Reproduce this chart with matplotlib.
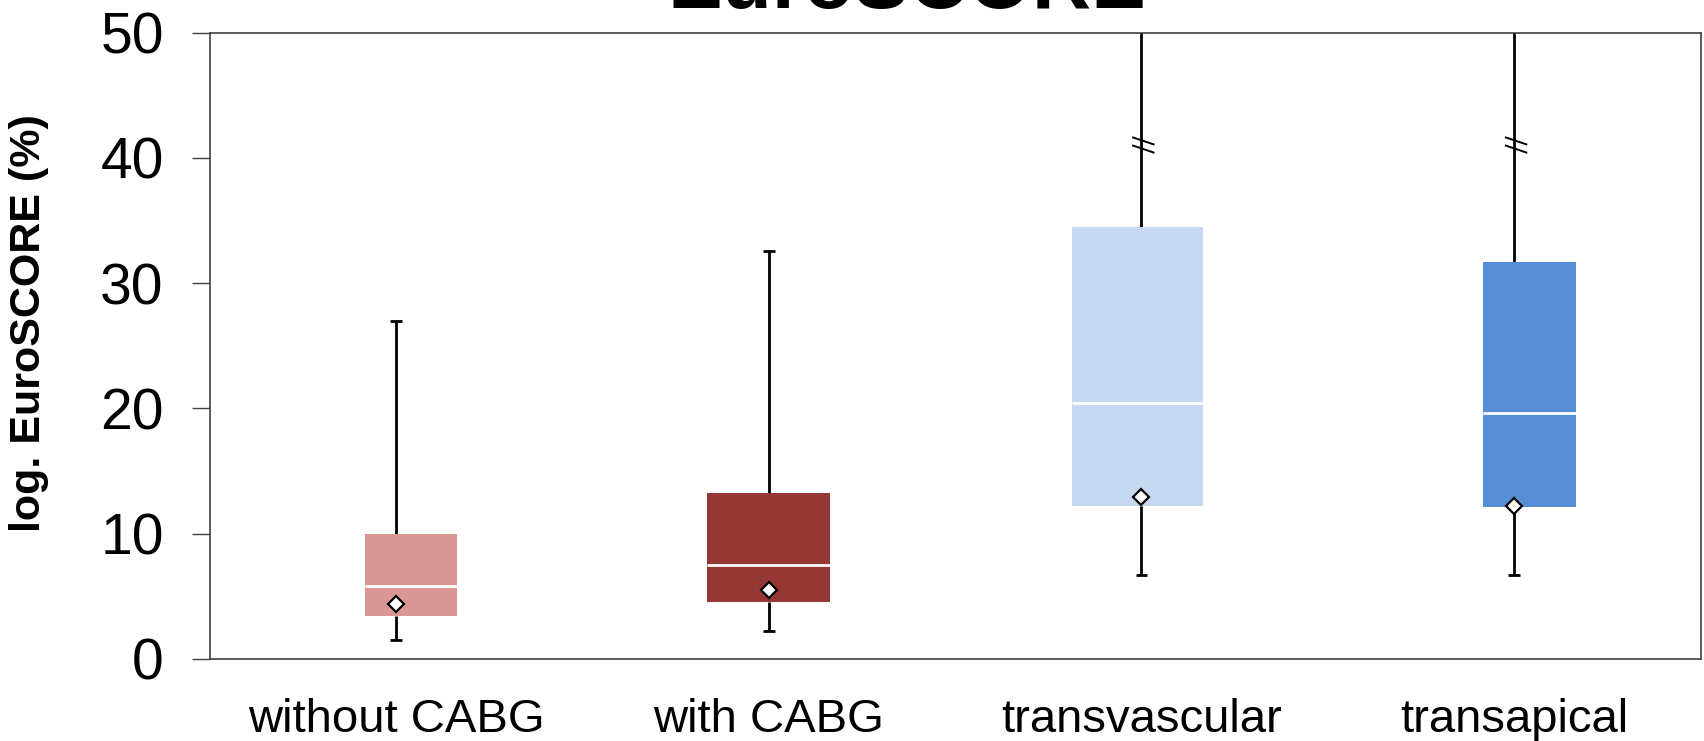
import numpy as np
import matplotlib.pyplot as plt

# EuroSCORE box plots by treatment group
groups = ['without CABG', 'with CABG', 'transvascular', 'transapical']
whisker_low = [1.5, 2.2, 6.7, 6.7]
q1 = [3.4, 4.5, 12.2, 12.1]
median = [5.8, 7.5, 20.4, 19.6]
q3 = [10.0, 13.2, 34.5, 31.7]
whisker_high = [27.0, 32.6, 60.0, 60.0]   # last two run off the axis
means = [4.4, 5.5, 12.9, 12.2]
break_at = [None, None, 41.0, 41.0]        # axis-break marks on long whiskers
colors = ['#DA9694', '#953735', '#C6D9F1', '#558ED5']
box_widths = [0.247, 0.330, 0.352, 0.248]  # boxes share a right edge

plt.rcParams['font.family'] = ['Liberation Sans', 'DejaVu Sans']

fig = plt.figure(figsize=(17.04, 7.41), dpi=100)
ax = fig.add_axes([0.123, 0.111, 0.875, 0.845])

x = np.arange(len(groups))
right_off = 0.165

# whiskers + caps
ax.vlines(x, whisker_low, q1, color='black', lw=2.0, zorder=2)
ax.vlines(x, q3, whisker_high, color='black', lw=2.0, zorder=2)
ax.hlines(whisker_low, x - 0.016, x + 0.016, color='black', lw=2.0, zorder=2)
ax.hlines(whisker_high, x - 0.016, x + 0.016, color='black', lw=2.0, zorder=2)

# boxes
lefts = x + right_off - np.array(box_widths)
ax.bar(lefts, np.array(q3) - np.array(q1), width=box_widths, bottom=q1,
       align='edge', color=colors, edgecolor='none', zorder=3)
ax.hlines(median, lefts, x + right_off, color='white', lw=2.0, zorder=4)

# mean markers
ax.plot(x, means, ls='none', marker='D', ms=8, mfc='white', mec='black',
        mew=1.6, zorder=5)

# break marks
for xi, b in zip(x, break_at):
    if b is None:
        continue
    for dy in (0.35, -0.3):
        ax.plot([xi - 0.025, xi + 0.035], [b + dy + 0.3, b + dy - 0.3],
                color='black', lw=1.4, zorder=3, solid_capstyle='butt')

ax.set_xlim(-0.5, 3.5)
ax.set_ylim(0, 50)
ax.set_yticks([0, 10, 20, 30, 40, 50])
ax.set_xticks(x)
ax.set_xticklabels(groups)
ax.tick_params(axis='x', length=0, labelsize=34, pad=28)
ax.tick_params(axis='y', length=13, width=1.0, color='#404040',
               labelsize=41, pad=20)
for sp in ax.spines.values():
    sp.set_color('#404040')
    sp.set_linewidth(1.2)

ax.set_ylabel('log. EuroSCORE (%)', fontsize=31, fontweight='bold')
ax.yaxis.set_label_coords(-0.108, 0.536)

fig.text(0.532, 0.989, 'EuroSCORE', fontsize=59, fontweight='bold',
         ha='center', va='baseline')

fig.savefig('out.png', dpi=100)
